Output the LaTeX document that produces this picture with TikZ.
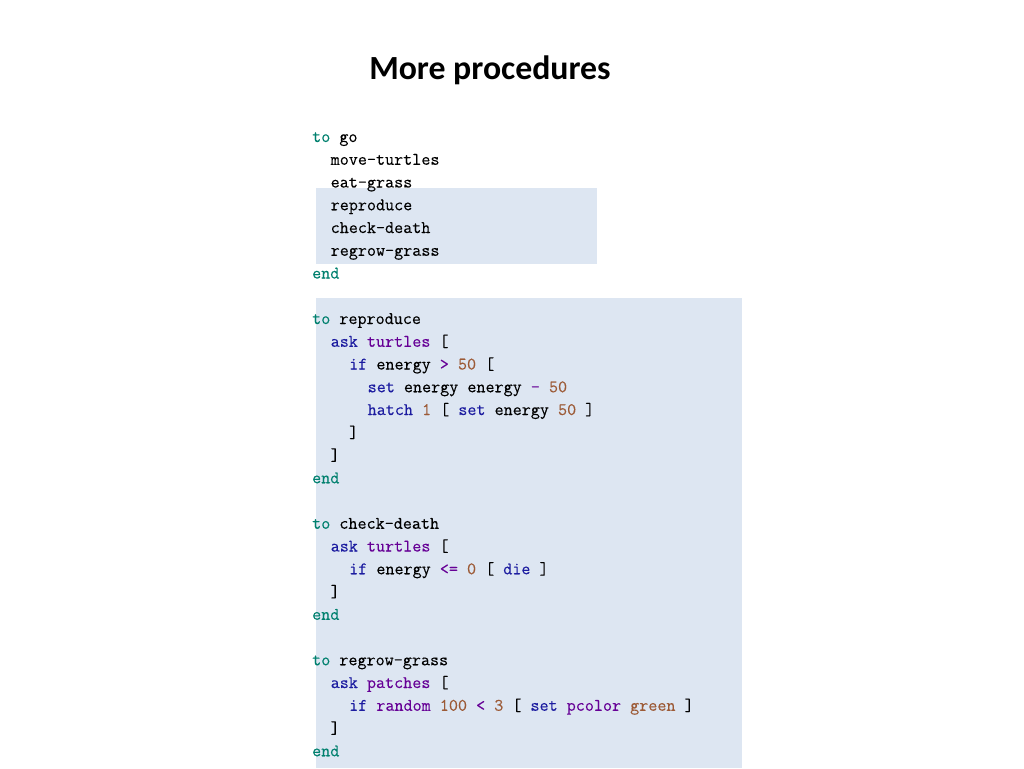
\documentclass[tikz,border=0pt]{standalone}
\usepackage{fontspec}
\setmainfont{Carlito}
\newfontfamily\codefont{Latin Modern Mono}[FakeBold=0.2]
\definecolor{hl}{HTML}{DDE6F2}
\definecolor{cteal}{HTML}{00806E}
\definecolor{cblue}{HTML}{1C1CA0}
\definecolor{cpurple}{HTML}{660096}
\definecolor{cbrown}{HTML}{9C5A36}
\newcommand{\kp}[1]{\textcolor{cteal}{#1}}
\newcommand{\kw}[1]{\textcolor{cblue}{#1}}
\newcommand{\kv}[1]{\textcolor{cpurple}{#1}}
\newcommand{\kn}[1]{\textcolor{cbrown}{#1}}
\tikzset{
  code/.style={anchor=base west, inner sep=0pt, font=\fontsize{17.6}{20}\selectfont\codefont},
  title/.style={font=\fontsize{33.8}{40}\selectfont\bfseries, inner sep=0pt}
}
\newcommand{\cl}[4]{\node[code] (#1) at ({312+9.25*#2},{136+22.75*#3+6}) {#4};}
\begin{document}
\begin{tikzpicture}[x=1pt,y=-1pt]
\useasboundingbox (0,0) rectangle (1024,768);
\fill[hl] (316,188) rectangle (597,264);
\fill[hl] (316,298) rectangle (742,768);
\node[title] (t) at (490,70) {More procedures};
% go
\cl{l0}{0}{0}{\kp{to} go}
\cl{l1}{2}{1}{move-turtles}
\cl{l2}{2}{2}{eat-grass}
\cl{l3}{2}{3}{reproduce}
\cl{l4}{2}{4}{check-death}
\cl{l5}{2}{5}{regrow-grass}
\cl{l6}{0}{6}{\kp{end}}
% reproduce
\cl{l8}{0}{8}{\kp{to} reproduce}
\cl{l9}{2}{9}{\kw{ask} \kv{turtles} [}
\cl{l10}{4}{10}{\kw{if} energy \kv{>} \kn{50} [}
\cl{l11}{6}{11}{\kw{set} energy energy \kv{-} \kn{50}}
\cl{l12}{6}{12}{\kw{hatch} \kn{1} [ \kw{set} energy \kn{50} ]}
\cl{l13}{4}{13}{]}
\cl{l14}{2}{14}{]}
\cl{l15}{0}{15}{\kp{end}}
% check-death
\cl{l17}{0}{17}{\kp{to} check-death}
\cl{l18}{2}{18}{\kw{ask} \kv{turtles} [}
\cl{l19}{4}{19}{\kw{if} energy \kv{<=} \kn{0} [ \kw{die} ]}
\cl{l20}{2}{20}{]}
\cl{l21}{0}{21}{\kp{end}}
% regrow-grass
\cl{l23}{0}{23}{\kp{to} regrow-grass}
\cl{l24}{2}{24}{\kw{ask} \kv{patches} [}
\cl{l25}{4}{25}{\kw{if} \kv{random} \kn{100} \kv{<} \kn{3} [ \kw{set} \kv{pcolor} \kn{green} ]}
\cl{l26}{2}{26}{]}
\cl{l27}{0}{27}{\kp{end}}
\end{tikzpicture}
\end{document}
